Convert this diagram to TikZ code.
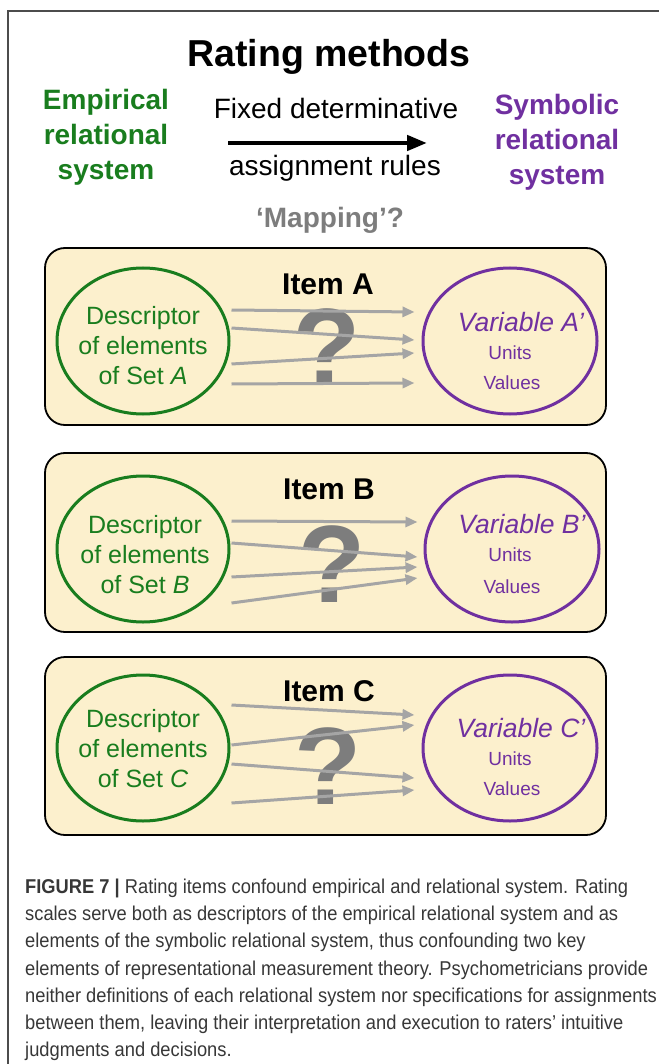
\documentclass[tikz,border=0pt]{standalone}
\usepackage{fontspec}
\setmainfont{Liberation Sans}
\newfontfamily\capfont[FakeStretch=0.915]{Liberation Sans}
\usetikzlibrary{shapes.geometric,arrows.meta,calc}
\definecolor{egreen}{RGB}{25,125,30}
\definecolor{spurple}{RGB}{112,48,160}
\definecolor{cream}{RGB}{252,240,205}
\definecolor{agray}{RGB}{165,165,165}
\definecolor{qgray}{RGB}{125,125,125}
\definecolor{capgray}{RGB}{55,55,55}
\tikzset{
  frameline/.style={line width=1.4pt, black!70},
  itembox/.style={draw=black, line width=1.8pt, fill=cream, rounded corners=20pt},
  greencirc/.style={ellipse, draw=egreen, line width=3pt, minimum width=172pt, minimum height=146pt, inner sep=0pt},
  purplecirc/.style={ellipse, draw=spurple, line width=3pt, minimum width=174pt, minimum height=146pt, inner sep=0pt},
  greentext/.style={text=egreen, align=center, inner sep=0pt, font=\fontsize{25}{30}\selectfont},
  vartext/.style={text=spurple, inner sep=0pt, font=\itshape\fontsize{26.5}{30}\selectfont},
  unittext/.style={text=spurple, inner sep=0pt, font=\fontsize{19}{22}\selectfont},
  itemlabel/.style={inner sep=0pt, font=\bfseries\fontsize{30}{34}\selectfont},
  qmark/.style={text=qgray, inner sep=0pt, font=\bfseries\fontsize{110}{112}\selectfont},
  grayarrow/.style={draw=agray, line width=3pt, -{Triangle[length=12pt,width=10pt]}},
  headtext/.style={align=center, inner sep=0pt, font=\bfseries\fontsize{28}{35}\selectfont},
  ruletext/.style={inner sep=0pt, font=\fontsize{28}{32}\selectfont},
}
\begin{document}
\begin{tikzpicture}[x=1pt,y=-1pt]
\useasboundingbox (0,0) rectangle (659,1064);
\draw[frameline] (8,1064) -- (8,11) -- (659,11);

% header
\node[inner sep=0pt, font=\bfseries\fontsize{37.5}{40}\selectfont] (title) at (329,57) {Rating methods};
\node[headtext, text=egreen] (emp) at (106,137) {Empirical\\relational\\system};
\node[headtext, text=spurple] (sym) at (557,142) {Symbolic\\relational\\system};
\node[ruletext] (fixed) at (336,108) {Fixed determinative};
\node[ruletext] (assign) at (335,168) {assignment rules};
\coordinate (arrs) at (228,143);
\coordinate (arre) at (427,143);
\draw[line width=4.5pt, -{Triangle[length=20pt,width=15pt]}] (arrs) -- (arre);
\node[inner sep=0pt, text=qgray, font=\bfseries\fontsize{28}{32}\selectfont] (map) at (330,220) {‘Mapping’?};

% ---------- Item A ----------
\draw[itembox] (45,248) rectangle (606,425);
\node[itemlabel] (itA) at (328,284) {Item A};
\node[greencirc] (dA) at (143,341) {};
\node[greentext] (dAt) at (143,346) {Descriptor\\of elements\\of Set \textit{A}};
\node[purplecirc] (vA) at (510,341) {};
\node[vartext] (vAt) at (521,322) {Variable A’};
\node[unittext] (uA) at (510,353) {Units};
\node[unittext] (wA) at (512,383) {Values};
\node[qmark] (qA) at (327,347) {?};
\draw[grayarrow] ([xshift=1pt,yshift=31pt]dA.east) -- ([xshift=-7pt,yshift=29pt]vA.west);
\draw[grayarrow] ([xshift=1pt,yshift=13pt]dA.east) -- ([xshift=-7pt,yshift=1pt]vA.west);
\draw[grayarrow] ([xshift=1pt,yshift=-23pt]dA.east) -- ([xshift=-7pt,yshift=-12pt]vA.west);
\draw[grayarrow] ([xshift=1pt,yshift=-43pt]dA.east) -- ([xshift=-7pt,yshift=-42pt]vA.west);

% ---------- Item B ----------
\draw[itembox] (45,453) rectangle (606,632);
\node[itemlabel] (itB) at (329,489) {Item B};
\node[greencirc] (dB) at (143,549) {};
\node[greentext] (dBt) at (145,555) {Descriptor\\of elements\\of Set \textit{B}};
\node[purplecirc] (vB) at (512,549) {};
\node[vartext] (vBt) at (522,524) {Variable B’};
\node[unittext] (uB) at (510,555) {Units};
\node[unittext] (wB) at (512,587) {Values};
\node[qmark] (qB) at (332,564) {?};
\draw[grayarrow] ([xshift=1pt,yshift=28pt]dB.east) -- ([xshift=-6pt,yshift=27pt]vB.west);
\draw[grayarrow] ([xshift=1pt,yshift=6pt]dB.east) -- ([xshift=-6pt,yshift=-8pt]vB.west);
\draw[grayarrow] ([xshift=1pt,yshift=-28pt]dB.east) -- ([xshift=-6pt,yshift=-18pt]vB.west);
\draw[grayarrow] ([xshift=1pt,yshift=-54pt]dB.east) -- ([xshift=-6pt,yshift=-29pt]vB.west);

% ---------- Item C ----------
\draw[itembox] (45,657) rectangle (606,835);
\node[itemlabel] (itC) at (329,691) {Item C};
\node[greencirc] (dC) at (143,748) {};
\node[greentext] (dCt) at (143,749) {Descriptor\\of elements\\of Set \textit{C}};
\node[purplecirc] (vC) at (510,748) {};
\node[vartext] (vCt) at (521,728) {Variable C’};
\node[unittext] (uC) at (510,759) {Units};
\node[unittext] (wC) at (512,789) {Values};
\node[qmark] (qC) at (328,766) {?};
\draw[grayarrow] ([xshift=1pt,yshift=43pt]dC.east) -- ([xshift=-7pt,yshift=33pt]vC.west);
\draw[grayarrow] ([xshift=1pt,yshift=3pt]dC.east) -- ([xshift=-7pt,yshift=23pt]vC.west);
\draw[grayarrow] ([xshift=1pt,yshift=-16pt]dC.east) -- ([xshift=-7pt,yshift=-30pt]vC.west);
\draw[grayarrow] ([xshift=1pt,yshift=-55pt]dC.east) -- ([xshift=-7pt,yshift=-42pt]vC.west);

% ---------- caption ----------
\node[anchor=north west, inner sep=0pt, align=left, text=capgray, font=\capfont\fontsize{20}{27.1}\selectfont] (cap) at (25,879)
{{\bfseries FIGURE 7 |} Rating items confound empirical and relational system. Rating\\
scales serve both as descriptors of the empirical relational system and as\\
elements of the symbolic relational system, thus confounding two key\\
elements of representational measurement theory. Psychometricians provide\\
neither definitions of each relational system nor specifications for assignments\\
between them, leaving their interpretation and execution to raters’ intuitive\\
judgments and decisions.};
\end{tikzpicture}
\end{document}
